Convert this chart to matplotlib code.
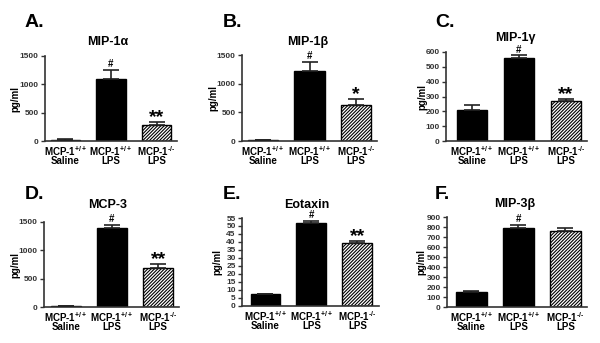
import matplotlib
matplotlib.use("Agg")
import matplotlib.pyplot as plt
import numpy as np

plt.rcParams['font.family'] = ['Liberation Sans', 'DejaVu Sans']
plt.rcParams['mathtext.fontset'] = 'custom'
plt.rcParams['mathtext.bf'] = 'Liberation Sans:bold'
plt.rcParams['mathtext.rm'] = 'Liberation Sans:bold'
plt.rcParams['mathtext.default'] = 'bf'
plt.rcParams['hatch.linewidth'] = 0.8

# ---- data ----
groups = ['MCP-1$^{+/+}$\nSaline', 'MCP-1$^{+/+}$\nLPS', 'MCP-1$^{\u2010/\u2010}$\nLPS']

mip1a_mean = [25, 1095, 275]
mip1a_err = [5, 160, 65]
mip1b_mean = [20, 1220, 620]
mip1b_err = [5, 155, 120]
mip1g_mean = [212, 557, 267]
mip1g_err = [28, 20, 15]
mcp3_mean = [15, 1390, 690]
mcp3_err = [5, 55, 70]
eotaxin_mean = [7.3, 51.8, 39.2]
eotaxin_err = [0.3, 1.6, 1.2]
mip3b_mean = [150, 795, 765]
mip3b_err = [12, 30, 25]

titles = ['MIP-1α', 'MIP-1β', 'MIP-1γ', 'MCP-3', 'Eotaxin', 'MIP-3β']
letters = ['A.', 'B.', 'C.', 'D.', 'E.', 'F.']
marks_a = ['', '#', '**']
marks_b = ['', '#', '*']
marks_c = ['', '#', '**']
marks_d = ['', '#', '**']
marks_e = ['', '#', '**']
marks_f = ['', '#', '']
yticks_a = [0, 500, 1000, 1500]
yticks_b = [0, 500, 1000, 1500]
yticks_c = [0, 100, 200, 300, 400, 500, 600]
yticks_d = [0, 500, 1000, 1500]
yticks_e = [0, 5, 10, 15, 20, 25, 30, 35, 40, 45, 50, 55]
yticks_f = [0, 100, 200, 300, 400, 500, 600, 700, 800, 900]

W, H = 600, 343
fig = plt.figure(figsize=(W / 100, H / 100), dpi=100)

panels = [
    dict(box=(45, 177, 56, 141), xlim=(-0.45, 2.45), m=mip1a_mean, e=mip1a_err, mk=marks_a, yt=yticks_a,
         tpos=(108, 42), lpos=(25, 27), ylx=20),
    dict(box=(242, 377, 55, 141), xlim=(-0.45, 2.45), m=mip1b_mean, e=mip1b_err, mk=marks_b, yt=yticks_b,
         tpos=(308, 42), lpos=(223, 27), ylx=218),
    dict(box=(446, 587, 52, 141), xlim=(-0.55, 2.45), m=mip1g_mean, e=mip1g_err, mk=marks_c, yt=yticks_c,
         tpos=(515, 38), lpos=(435, 27), ylx=427),
    dict(box=(44, 179, 222, 307), xlim=(-0.47, 2.45), m=mcp3_mean, e=mcp3_err, mk=marks_d, yt=yticks_d,
         tpos=(108, 205), lpos=(25, 199), ylx=20),
    dict(box=(242, 379, 218, 306), xlim=(-0.51, 2.47), m=eotaxin_mean, e=eotaxin_err, mk=marks_e, yt=yticks_e,
         tpos=(307, 205), lpos=(223, 199), ylx=222),
    dict(box=(447, 587, 217, 307), xlim=(-0.52, 2.46), m=mip3b_mean, e=mip3b_err, mk=marks_f, yt=yticks_f,
         tpos=(515, 204), lpos=(435, 199), ylx=426),
]

axcol = '#333333'
for i, p in enumerate(panels):
    l, r, t, b = p['box']
    ax = fig.add_axes([l / W, 1 - b / H, (r - l) / W, (b - t) / H])
    x = np.arange(3)
    ymax = p['yt'][-1]
    ax.set_xlim(*p['xlim'])
    ax.set_ylim(0, ymax)
    colors = ['black', 'black', 'white']
    hatches = [None, None, '//////////']
    for xi, mv, c, h in zip(x, p['m'], colors, hatches):
        ax.bar(xi, mv, width=0.65, color=c, edgecolor='black', hatch=h, linewidth=1.0, zorder=2)
    err = np.array(p['e'])
    ax.errorbar(x, p['m'], yerr=[np.zeros(3), err], fmt='none', ecolor='#222222',
                elinewidth=1.2, capsize=6, capthick=1.2, zorder=3)
    for xi, mv, ev, mk in zip(x, p['m'], err, p['mk']):
        if mk:
            if mk == '#':
                ax.annotate(mk, (xi, mv + ev), xytext=(0, 0.5), textcoords='offset points',
                            ha='center', va='bottom', fontsize=7, fontweight='bold', clip_on=False)
            else:
                ax.annotate(mk, (xi, mv + ev), xytext=(0, -3.0), textcoords='offset points',
                            ha='center', va='bottom', fontsize=14, fontweight='bold', clip_on=False)
    for s in ['top', 'right']:
        ax.spines[s].set_visible(False)
    for s in ['left', 'bottom']:
        ax.spines[s].set_color(axcol)
        ax.spines[s].set_linewidth(1.2)
    ax.set_yticks(p['yt'])
    ax.set_yticklabels([str(v) for v in p['yt']], fontsize=6, fontweight='bold', color=axcol)
    ax.tick_params(axis='y', length=3, width=1, color=axcol, pad=1.5)
    ax.set_xticks(x)
    ax.set_xticklabels(groups, fontsize=7, fontweight='bold', linespacing=0.8)
    ax.tick_params(axis='x', length=0, pad=2)
    ax.set_ylabel('pg/ml', fontsize=7, fontweight='bold')
    ax.yaxis.set_label_coords((p['ylx'] - l) / (r - l), 0.5)
    fig.text(p['tpos'][0] / W, 1 - p['tpos'][1] / H, titles[i], fontsize=9, fontweight='bold',
             ha='center', va='center')
    fig.text(p['lpos'][0] / W, 1 - p['lpos'][1] / H, letters[i], fontsize=14, fontweight='bold',
             ha='left', va='baseline')

fig.savefig('out.png', dpi=100, facecolor='white')
